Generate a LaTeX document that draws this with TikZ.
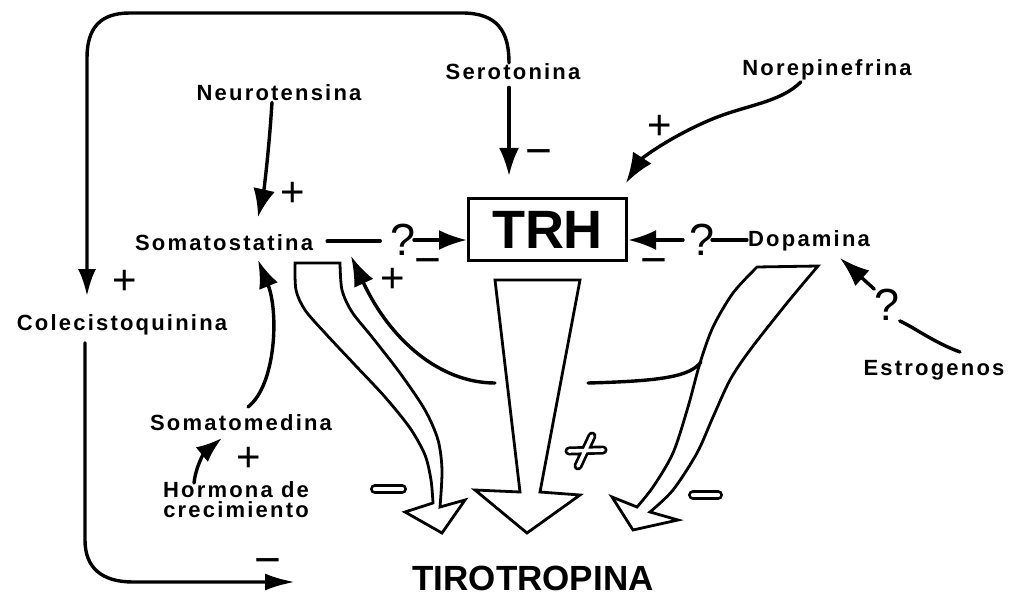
\documentclass[tikz,border=0pt]{standalone}
\usepackage{fontspec}
\setmainfont{Liberation Sans}
\newfontfamily\labfont[LetterSpace=10]{Liberation Sans}
\usetikzlibrary{arrows.meta}
\begin{document}
\begin{tikzpicture}[x=1pt,y=-1pt,
  lbl/.style={font=\labfont\bfseries\fontsize{22}{20}\selectfont,inner sep=1pt,anchor=base},
  plussign/.style={font=\fontsize{42}{42}\selectfont,inner sep=0pt,anchor=base},
  minussign/.style={font=\fontsize{46}{46}\selectfont,inner sep=0pt,anchor=base},
  qmark/.style={font=\fontsize{45}{45}\selectfont,inner sep=0pt},
  conn/.style={line width=3.4pt,line cap=round},
  arr/.style={conn,-{Latex[length=28pt,width=20pt]}},
  hollow/.style={line width=2.8pt,fill=white,line join=miter},
  hsign/.style={line width=10pt,line cap=round,black},
  hsignin/.style={line width=4.4pt,line cap=round,white},
]
\fill[white] (0,0) rectangle (1009,596);
\useasboundingbox (0,0) rectangle (1009,596);

% labels
\node[lbl] (ser) at (513,80) {Serotonina};
\node[lbl] (nor) at (827,76) {Norepinefrina};
\node[lbl] (neu) at (279,101) {Neurotensina};
\node[lbl] (som) at (224,251) {Somatostatina};
\node[lbl] (dop) at (809,247) {Dopamina};
\node[lbl] (col) at (122,330) {Colecistoquinina};
\node[lbl] (smd) at (241,430) {Somatomedina};
\node[lbl,anchor=center,align=center] (hgh) at (236,500) {Hormona de\\crecimiento};
\node[lbl] (est) at (934,375) {Estrogenos};
\node[draw,line width=3pt,minimum width=158pt,minimum height=62pt,inner sep=0pt,
      font=\bfseries\fontsize{54}{54}\selectfont] (trh) at (547.5,229.5) {TRH};
\node[font=\bfseries\fontsize{35}{35}\selectfont,anchor=base,inner sep=0pt] (tiro) at (533,590) {TIROTROPINA};

% question marks
\node[qmark] (q1) at (403,240) {?};
\node[qmark] (q2) at (702,240) {?};
\node[qmark] (q3) at (887,305) {?};

% signs
\node[plussign] (p1) at (125,294.8) {+};
\node[plussign] (p2) at (293,206.8) {+};
\node[plussign] (p3) at (660,139.8) {+};
\node[plussign] (p4) at (393,292.8) {+};
\node[plussign] (p5) at (249,471.8) {+};
\node[minussign] (m1) at (539,167) {−};
\node[minussign] (m2) at (428,275) {−};
\node[minussign] (m3) at (654,275) {−};
\node[minussign] (m4) at (268,575) {−};

% hollow arrows
\draw[hollow] plot[smooth] coordinates {(295,263) (296,290) (305,310) (325,333) (355,365) (385,397) (410,428) (425,455) (431,480) (433,503)}
  -- (405,512) -- (442,533) -- (465,500) --
  plot[smooth] coordinates {(440,507) (442,470) (438,440) (425,410) (400,373) (372,337) (352,312) (342,290) (340,263)} -- cycle;
\draw[hollow] (495,280) -- (580,280) -- (540,492) -- (580,495) -- (527,533) -- (475,490) -- (520,492) -- cycle;
\draw[hollow] plot[smooth] coordinates {(757,267) (733,293) (713,327) (700,363) (688,407) (673,453) (653,487) (637,507)}
  -- (612,497) -- (633,530) -- (678,520) --
  plot[smooth] coordinates {(650,512) (673,490) (697,453) (713,417) (730,380) (750,350) (787,303) (818,266)} -- cycle;

% hollow signs
\draw[hsign] (375,489) -- (402,489);
\draw[hsignin] (375,489) -- (402,489);
\draw[hsign] (693,495) -- (718,495);
\draw[hsignin] (693,495) -- (718,495);
\draw[hsign,line width=9pt] (569,451) -- (603,450) (592,436) -- (578,466);
\draw[hsignin,line width=3.6pt] (569,451) -- (603,450) (592,436) -- (578,466);

% coordinates
\coordinate (serX) at (509,0);
\coordinate (serB) at (509,176);
\coordinate (colA) at (87,296);
\coordinate (colX) at (85,0);
\coordinate (botB) at (295,582);
\coordinate (neuX) at (272,0);
\coordinate (neuB) at (258,217);
\coordinate (norX) at (801,0);
\coordinate (norB) at (626,183);
\coordinate (q1a) at (414,240);
\coordinate (q2a) at (683,240);
\coordinate (q2b) at (712,240);
\coordinate (estA) at (960,352);
\coordinate (dopB) at (840,258);
\coordinate (smdA) at (248,407);
\coordinate (somB) at (258,260);
\coordinate (hghA) at (194,483);
\coordinate (smdB) at (222,438);
\coordinate (dcA) at (701,362);
\coordinate (dcB) at (588,383);
\coordinate (dcC) at (495,383);
\coordinate (somC) at (351,256);

% connectors
\draw[arr,-{Latex[length=27pt,width=18pt]}] (ser.north -| serX) .. controls (509,32) and (498,13) .. (462,13)
  -- (130,13) .. controls (100,13) and (87,28) .. (87,58) -- (colA);
\draw[arr,shorten <=6pt] (ser.south -| serX) -- (serB);
\draw[arr,-{Latex[length=28pt,width=22pt]}] (neu.south -| neuX) .. controls (269,150) and (264,190) .. (neuB);
\draw[conn] (som.east) ++(13,-2) -- ++(53,0);
\draw[arr] (q1a) -- (q1a -| trh.west);
\draw[arr] (q2a) -- (q2a -| trh.east);
\draw[conn] (q2b) -- (q2b -| dop.west);
\draw[arr,-{Latex[length=30pt,width=22pt]}] (nor.south -| norX) .. controls (780,103) and (745,105) .. (710,120)
  .. controls (670,137) and (642,158) .. (norB);
\draw[conn] (estA) .. controls (935,343) and (915,328) .. (q3.south east);
\draw[arr,-{Latex[length=30pt,width=21pt]}] (q3.north west) -- (dopB);
\draw[arr,-{Latex[length=30pt,width=17pt]},shorten <=7pt] (col.south -| colX) -- (85,540)
  .. controls (85,568) and (102,582) .. (133,582) -- (botB);
\draw[arr,-{Latex[length=28pt,width=20pt]}] (smdA) .. controls (276,385) and (279,312) .. (somB);
\draw[arr,-{Latex[length=26pt,width=19pt]}] (hghA) .. controls (196,465) and (205,452) .. (smdB);
\draw[conn] (dcA) .. controls (690,376) and (665,381) .. (dcB);
\draw[arr,-{Latex[length=30pt,width=21pt]}] (dcC) .. controls (440,383) and (390,340) .. (somC);
\end{tikzpicture}
\end{document}
